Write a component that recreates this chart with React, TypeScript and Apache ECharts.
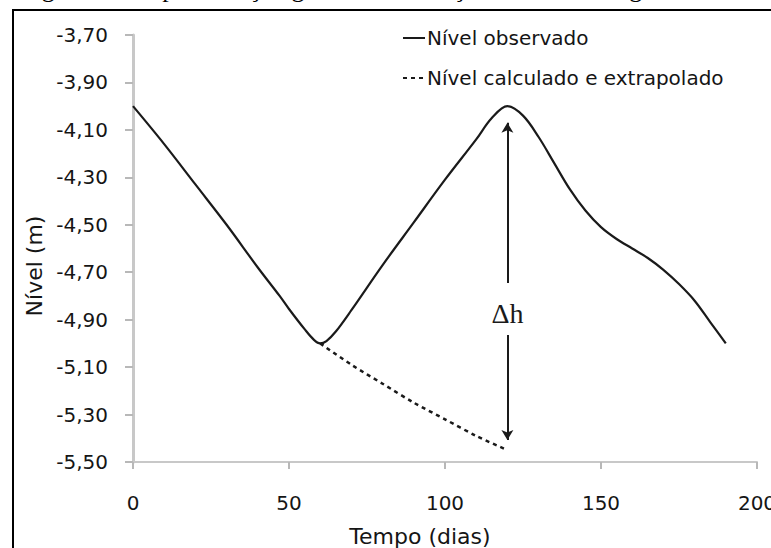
import React, { useEffect, useRef } from "react";
import * as echarts from "echarts";

// Observed level (solid line)
const obsDays = [0, 10, 20, 30, 40, 47, 50, 55, 58, 60, 62, 65, 70, 80, 90, 100, 110, 115, 120, 125, 130, 135, 140, 145, 150, 155, 160, 165, 170, 175, 180, 185, 190];
const obsLevel = [-4.0, -4.16, -4.33, -4.5, -4.68, -4.8, -4.855, -4.94, -4.985, -5.0, -4.99, -4.95, -4.86, -4.67, -4.49, -4.31, -4.14, -4.05, -4.0, -4.04, -4.13, -4.24, -4.35, -4.44, -4.51, -4.56, -4.6, -4.64, -4.69, -4.75, -4.82, -4.91, -5.0];

// Calculated and extrapolated level (dashed line)
const calcDays = [60, 70, 80, 90, 100, 110, 120];
const calcLevel = [-5.0, -5.09, -5.17, -5.25, -5.32, -5.39, -5.45];

// Δh arrow (day, top, gap top, gap bottom, bottom)
const arrowDay = 120;
const arrowTop = -4.07;
const arrowGapTop = -4.745;
const arrowGapBottom = -4.965;
const arrowBottom = -5.407;
const deltaLabelLevel = -4.876;

const seriesNames = ["Nível observado", "Nível calculado e extrapolado"];
const xTicks = { min: 0, max: 200, interval: 50 };
const yTicks = { min: -5.5, max: -3.7, interval: 0.2 };

const FONT = "DejaVu Sans";
const INK = "#1a1a1a";
const TEXT = "#151515";

export default function App() {
  const ref = useRef<HTMLDivElement>(null);

  useEffect(() => {
    if (!ref.current) return;
    const chart = echarts.init(ref.current, null, { renderer: "svg" });
    const obsData = obsDays.map((d, i) => [d, obsLevel[i]]);
    const calcData = calcDays.map((d, i) => [d, calcLevel[i]]);

    chart.setOption({
      animation: false,
      backgroundColor: "#ffffff",
      grid: { left: 133, right: 14, top: 35, bottom: 86, containLabel: false, outerBoundsMode: "none" },
      legend: {
        orient: "vertical",
        left: 397,
        top: 23,
        itemWidth: 22,
        itemHeight: 14,
        itemGap: 20,
        itemStyle: { opacity: 0 },
        textStyle: { fontFamily: FONT, fontSize: 20, color: TEXT, padding: [0, 0, 0, -3] },
        data: seriesNames,
      },
      xAxis: {
        type: "value",
        min: xTicks.min,
        max: xTicks.max,
        interval: xTicks.interval,
        name: "Tempo (dias)",
        nameLocation: "middle",
        nameGap: 63,
        nameTextStyle: { fontFamily: FONT, fontSize: 22, color: TEXT, padding: [0, 50, 0, 0] },
        axisLine: { show: true, lineStyle: { color: "#c8c8c8", width: 2 } },
        axisTick: { show: true, length: 7, lineStyle: { color: "#b8b8b8", width: 2 } },
        axisLabel: { fontFamily: FONT, fontSize: 20, color: TEXT, margin: 31 },
        splitLine: { show: false },
      },
      yAxis: {
        type: "value",
        min: yTicks.min,
        max: yTicks.max,
        interval: yTicks.interval,
        name: "Nível (m)",
        nameLocation: "middle",
        nameGap: 86,
        nameRotate: 90,
        nameTextStyle: { fontFamily: FONT, fontSize: 22, color: TEXT, padding: [0, 35, 0, 0] },
        axisLine: { show: true, onZero: false, lineStyle: { color: "#c8c8c8", width: 3 } },
        axisTick: { show: true, length: 8, lineStyle: { color: "#b8b8b8", width: 2 } },
        axisLabel: {
          fontFamily: FONT,
          fontSize: 20,
          color: TEXT,
          margin: 25,
          formatter: (v: number) => v.toFixed(2).replace(".", ","),
        },
        splitLine: { show: false },
      },
      graphic: [
        {
          type: "rect",
          z: -10,
          silent: true,
          shape: { x: 13, y: 10, width: 900, height: 700 },
          style: { fill: "none", stroke: "#000", lineWidth: 2 },
        },
        {
          type: "text",
          silent: true,
          style: {
            text: "Figura 1 – Representação gráfica da variação do nível de água",
            x: 20,
            y: 1,
            verticalAlign: "bottom",
            font: "26px 'Liberation Serif'",
            fill: "#000",
          },
        },
      ],
      series: [
        {
          name: seriesNames[0],
          type: "line",
          data: obsData,
          smooth: 0.35,
          symbol: "none",
          showSymbol: false,
          lineStyle: { color: INK, width: 2.2, type: "solid" },
          itemStyle: { color: INK },
        },
        {
          name: seriesNames[1],
          type: "line",
          data: calcData,
          smooth: 0.3,
          symbol: "none",
          showSymbol: false,
          lineStyle: { color: INK, width: 2.5, type: [4, 4] },
          itemStyle: { color: INK },
          markLine: {
            silent: true,
            symbol: ["none", "arrow"],
            symbolSize: [9, 10],
            label: { show: false },
            lineStyle: { color: INK, width: 2, type: "solid" },
            data: [
              [{ coord: [arrowDay, arrowGapTop] }, { coord: [arrowDay, arrowTop] }],
              [{ coord: [arrowDay, arrowGapBottom] }, { coord: [arrowDay, arrowBottom] }],
            ],
          },
          markPoint: {
            silent: true,
            symbol: "circle",
            symbolSize: 0,
            data: [
              {
                coord: [arrowDay, deltaLabelLevel],
                label: {
                  show: true,
                  position: "inside",
                  formatter: "Δh",
                  fontFamily: "Liberation Serif",
                  fontSize: 28,
                  color: INK,
                },
              },
            ],
          },
        },
      ],
    });

    return () => chart.dispose();
  }, []);

  return (
    <div
      ref={ref}
      style={{ position: "fixed", left: 0, top: 0, width: 771, height: 548, background: "#fff" }}
    />
  );
}
